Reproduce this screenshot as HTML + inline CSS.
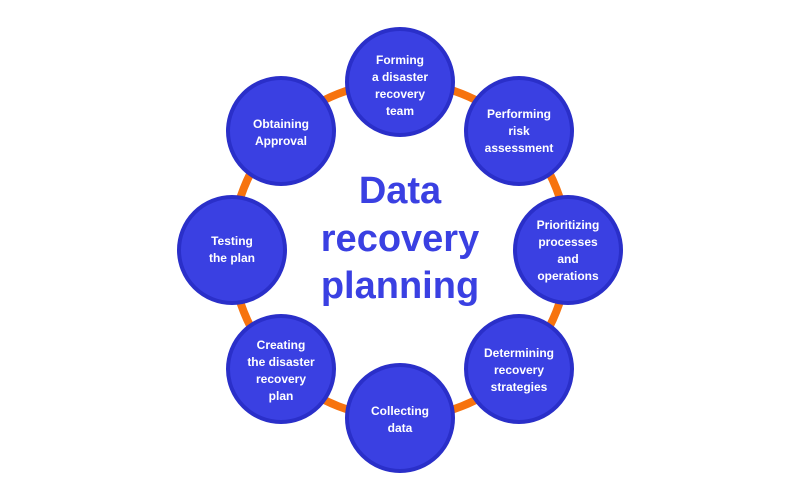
<!DOCTYPE html>
<html><head><meta charset="utf-8"><style>
html,body{margin:0;padding:0;background:#fff;}
svg{display:block}
text{font-family:"Liberation Sans",sans-serif;font-weight:bold;}
</style></head><body>
<svg width="800" height="480" viewBox="0 0 800 480">
<circle cx="400" cy="250" r="168" fill="none" stroke="#f7730e" stroke-width="8"/>
<g fill="#3a40e2" stroke="#2a2fc9" stroke-width="4">
<circle cx="400" cy="82" r="53"/>
<circle cx="519" cy="131" r="53"/>
<circle cx="568" cy="250" r="53"/>
<circle cx="519" cy="369" r="53"/>
<circle cx="400" cy="418" r="53"/>
<circle cx="281" cy="369" r="53"/>
<circle cx="232" cy="250" r="53"/>
<circle cx="281" cy="131" r="53"/>
</g>
<g fill="#fff" font-size="12" text-anchor="middle">
<text x="400" y="64">Forming</text><text x="400" y="81">a disaster</text><text x="400" y="98">recovery</text><text x="400" y="115">team</text>
<text x="519" y="118">Performing</text><text x="519" y="135">risk</text><text x="519" y="152">assessment</text>
<text x="568" y="229">Prioritizing</text><text x="568" y="246">processes</text><text x="568" y="263">and</text><text x="568" y="280">operations</text>
<text x="519" y="357">Determining</text><text x="519" y="374">recovery</text><text x="519" y="391">strategies</text>
<text x="400" y="415">Collecting</text><text x="400" y="432">data</text>
<text x="281" y="349">Creating</text><text x="281" y="366">the disaster</text><text x="281" y="383">recovery</text><text x="281" y="400">plan</text>
<text x="232" y="245">Testing</text><text x="232" y="262">the plan</text>
<text x="281" y="128">Obtaining</text><text x="281" y="145">Approval</text>
</g>
<g fill="#3a40e2" font-size="38" text-anchor="middle">
<text x="400" y="203">Data</text><text x="400" y="251">recovery</text><text x="400" y="298">planning</text>
</g>
</svg>
</body></html>
